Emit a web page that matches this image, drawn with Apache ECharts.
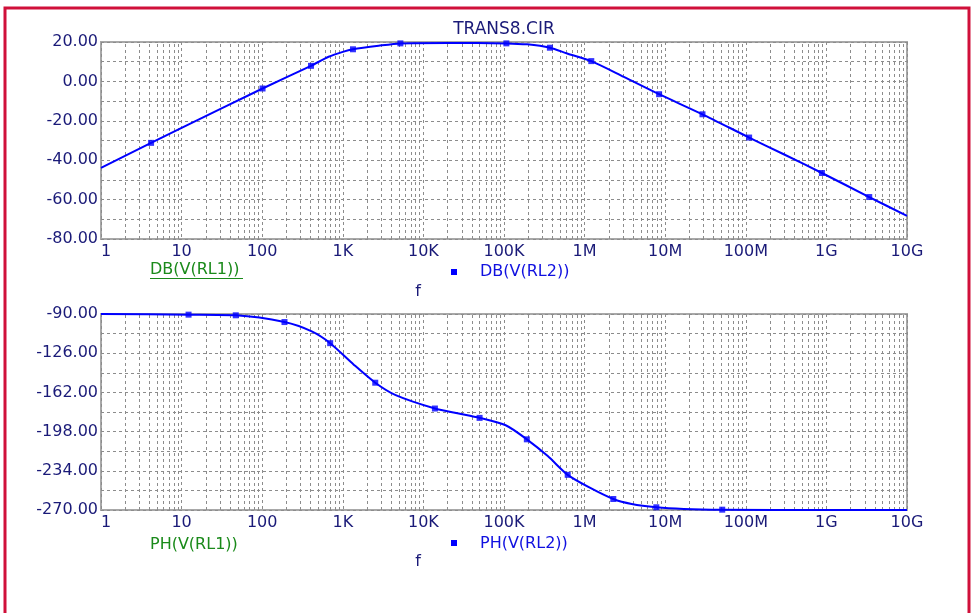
<!DOCTYPE html>
<html>
<head>
<meta charset="utf-8">
<script src="https://cdn.jsdelivr.net/npm/echarts@6/dist/echarts.min.js"></script>
<style>
html,body{margin:0;padding:0;background:#fff;}
#chart{width:974px;height:613px;}
</style>
</head>
<body>
<div id="chart"></div>
<script>
// ---------- data ----------
const title = 'TRANS8.CIR';
const xTickLabels = ['1','10','100','1K','10K','100K','1M','10M','100M','1G','10G'];
const xAxisName = 'f';
// magnitude curve [frequency Hz, dB]
const magLine = [[1,-43.9],[4.18,-31.2],[10,-23.6],[101,-3.6],[403,7.9],[667,12.5],[1000,15.0],[1337,16.3],[2786,18.1],[5180,19.3],[20000,19.5],[107000,19.3],[194000,18.8],[371000,17.1],[608000,14.2],[1.21e6,10.3],[3.07e6,2.3],[8.4e6,-6.5],[2.9e7,-16.7],[1.1e8,-28.5],[3e8,-37.1],[8.8e8,-46.5],[3.4e9,-58.7],[1e10,-68.3]];
const magMarks = [[4.18,-31.2],[101,-3.6],[403,7.9],[1337,16.3],[5180,19.3],[107000,19.3],[371000,17.1],[1.21e6,10.3],[8.4e6,-6.5],[2.9e7,-16.7],[1.1e8,-28.5],[8.8e8,-46.5],[3.4e9,-58.7]];
// phase curve [frequency Hz, degrees]
const phLine = [[1,-90],[12.2,-90.6],[47,-91.2],[189,-97.4],[412,-106],[697,-116.8],[1368,-136.5],[2527,-153.1],[4530,-164.5],[13900,-176.8],[27400,-181.4],[49800,-185.4],[105000,-192.2],[192000,-205.1],[349000,-220.5],[617000,-237.7],[1.16e6,-249.5],[2.27e6,-259.9],[3.84e6,-264.5],[7.76e6,-267.5],[1.7e7,-269],[5.1e7,-269.7],[1e9,-270],[1e10,-270]];
const phMarks = [[12.2,-90.6],[47,-91.2],[189,-97.4],[697,-116.8],[2527,-153.1],[13900,-176.8],[49800,-185.4],[192000,-205.1],[617000,-237.7],[2.27e6,-259.9],[7.76e6,-267.5],[5.1e7,-269.7]];
const magNames = ['DB(V(RL1))','DB(V(RL2))'];
const phNames = ['PH(V(RL1))','PH(V(RL2))'];
const magAxis = {min:-80, max:20, interval:20};
const phAxis = {min:-270, max:-90, interval:36};

// ---------- styling ----------
const FONT = 'DejaVu Sans';
const NAVY = '#1a1a78';
const GREEN = '#1a8a1a';
const BLUE = '#0000ff';
const GRIDC = '#8c8c8c';

// vertical log grid lines at 2..9 of each decade
const minorX = [];
for (let d = 0; d < 10; d++) for (let k = 2; k <= 9; k++) minorX.push({xAxis: k * Math.pow(10, d)});

function xAxisCfg(gi, margin){
  return {
    type:'log', logBase:10, min:1, max:1e10, interval:1, splitNumber:10, gridIndex:gi,
    axisLine:{show:false}, axisTick:{show:false},
    axisLabel:{color:NAVY, fontFamily:FONT, fontSize:16, margin:margin, hideOverlap:false,
      showMinLabel:true, showMaxLabel:true, alignMinLabel:'left',
      formatter:v => xTickLabels[Math.round(Math.log10(v))]},
    splitLine:{show:true, lineStyle:{color:GRIDC, type:[3,3], width:1}}
  };
}
function yAxisCfg(gi, a){
  return {
    type:'value', gridIndex:gi, min:a.min, max:a.max, interval:a.interval,
    axisLine:{show:false}, axisTick:{show:false},
    axisLabel:{color:NAVY, fontFamily:FONT, fontSize:16, margin:3, formatter:v => v.toFixed(2)},
    splitLine:{show:true, lineStyle:{color:GRIDC, type:[3,3], width:1}},
    minorTick:{show:false, splitNumber:2},
    minorSplitLine:{show:true, lineStyle:{color:GRIDC, type:[3,3], width:1}}
  };
}
function gridLinesSeries(gi){
  return {type:'line', xAxisIndex:gi, yAxisIndex:gi, data:[], silent:true, z:1,
    markLine:{silent:true, symbol:['none','none'], label:{show:false}, animation:false,
      lineStyle:{color:GRIDC, type:[3,3], width:1}, emphasis:{disabled:true}, data:minorX}};
}
function curve(gi, data){
  return {type:'line', xAxisIndex:gi, yAxisIndex:gi, data:data, showSymbol:false,
    smooth:0.25, clip:false, z:10,
    lineStyle:{color:BLUE, width:2}, itemStyle:{color:BLUE}};
}
function marks(gi, data){
  return {type:'scatter', xAxisIndex:gi, yAxisIndex:gi, data:data, symbol:'rect', symbolSize:6,
    z:11, itemStyle:{color:BLUE}};
}
function txt(x, y, text, color, size, align){
  return {type:'text', x:x, y:y, style:{text:text, fill:color, font:(size||16)+'px "'+FONT+'"',
    textAlign:align||'left', textVerticalAlign:'middle'}};
}

const chart = echarts.init(document.getElementById('chart'), null, {renderer:'canvas'});
chart.setOption({
  animation:false,
  backgroundColor:'#ffffff',
  grid:[
    {left:101, top:42, width:806, height:197, show:true, borderColor:'#a8a8a8', borderWidth:2, backgroundColor:'transparent'},
    {left:101, top:314, width:806, height:196, show:true, borderColor:'#a8a8a8', borderWidth:2, backgroundColor:'transparent'}
  ],
  xAxis:[xAxisCfg(0, 5), xAxisCfg(1, 5)],
  yAxis:[yAxisCfg(0, magAxis), yAxisCfg(1, phAxis)],
  series:[
    gridLinesSeries(0), gridLinesSeries(1),
    curve(0, magLine), marks(0, magMarks),
    curve(1, phLine), marks(1, phMarks)
  ],
  graphic:[
    {type:'rect', shape:{x:5, y:8, width:964, height:640}, style:{fill:'none', stroke:'#d0103a', lineWidth:3}},
    txt(504, 30, title, NAVY, 17, 'center'),
    txt(150, 270, magNames[0], GREEN),
    {type:'line', shape:{x1:150, y1:278.5, x2:243, y2:278.5}, style:{stroke:GREEN, lineWidth:1}},
    {type:'rect', shape:{x:451, y:269, width:6, height:6}, style:{fill:BLUE}},
    txt(480, 272, magNames[1], '#1010e0'),
    txt(418, 292, xAxisName, NAVY, 16, 'center'),
    txt(150, 545, phNames[0], GREEN),
    {type:'rect', shape:{x:451, y:540, width:6, height:6}, style:{fill:BLUE}},
    txt(480, 544, phNames[1], '#1010e0'),
    txt(418, 562, xAxisName, NAVY, 16, 'center')
  ]
});
</script>
</body>
</html>
